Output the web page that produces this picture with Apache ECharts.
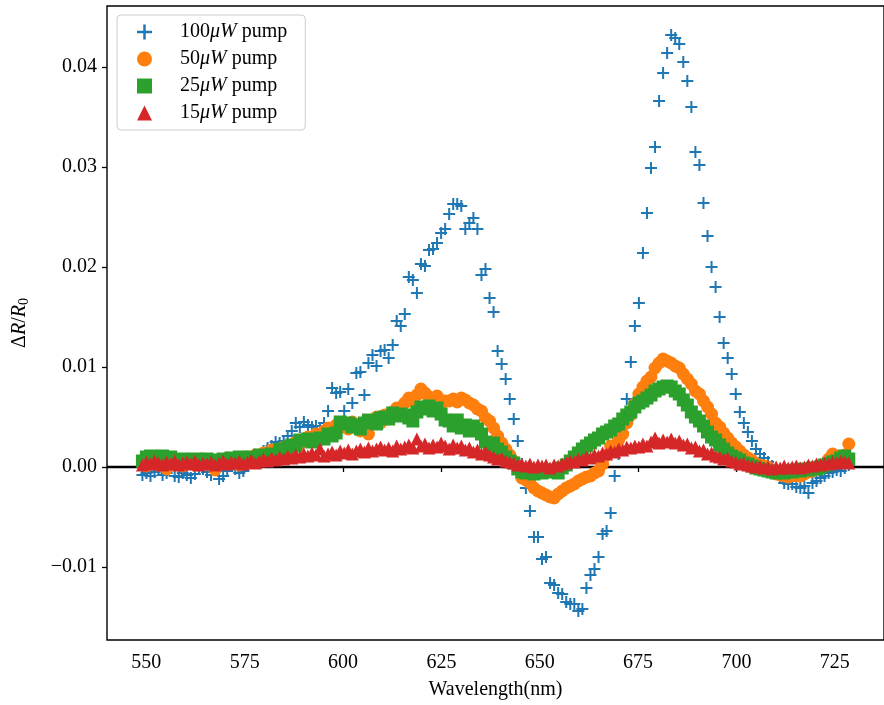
<!DOCTYPE html>
<html>
<head>
<meta charset="utf-8">
<script src="https://cdn.jsdelivr.net/npm/echarts@6/dist/echarts.min.js"></script>
<style>
  html, body { margin: 0; padding: 0; background: #ffffff; }
  #chart { width: 884px; height: 705px; }
</style>
</head>
<body>
<div id="chart"></div>
<script>
// Spectrometer wavelength grid (nm): first sample and spacing
const WL_START = 549.0;
const WL_STEP = 1.026;

// Differential reflectance ΔR/R0, stored in units of 1e-4, one value per sample
const SCALE = 1e-4;

const pump100 = [
  -8, -6, -9, -5, -3, -8, -6, 1, -9, -10,
  -6, -8, -11, -7, 0, -2, -5, -8, -3, -12,
  -9, -4, 1, -2, -6, -4, 2, 5, 9, 12,
  16, 19, 21, 25, 24, 26, 31, 36, 44, 40,
  45, 42, 40, 41, 38, 44, 56, 79, 74, 75,
  56, 78, 64, 94, 95, 72, 104, 112, 101, 116,
  117, 109, 122, 146, 141, 153, 190, 187, 174, 203,
  201, 217, 218, 224, 234, 238, 253, 263, 263, 261,
  238, 244, 249, 238, 192, 198, 169, 155, 116, 103,
  88, 68, 48, 26, 3, -21, -44, -70, -70, -92,
  -90, -116, -118, -126, -127, -135, -137, -137, -144, -142,
  -121, -108, -102, -90, -67, -64, -46, -9, 13, 40,
  68, 105, 141, 164, 214, 254, 299, 320, 366, 394,
  414, 432, 429, 423, 405, 386, 360, 315, 302, 264,
  231, 200, 180, 150, 124, 109, 93, 73, 55, 44,
  35, 26, 18, 13, 9, 5, 1, -4, -10, -16,
  -17, -17, -20, -21, -19, -26, -16, -14, -11, -9,
  -6, -5, -3, -4, -1, 2
];

const pump50 = [
  3, 1, 6, 4, 2, 5, -2, 4, 6, 3,
  1, 5, 7, 2, 4, 8, 3, 6, -3, 5,
  7, 9, 4, 6, 2, 8, 10, 7, 12, 9,
  14, 11, 17, 15, 18, 20, 16, 22, 25, 23,
  28, 30, 27, 33, 31, 36, 39, 37, 42, 44,
  40, 38, 45, 41, 36, 40, 33, 46, 50, 44,
  52, 48, 55, 59, 53, 64, 69, 66, 72, 78,
  74, 70, 68, 71, 63, 66, 66, 68, 65, 69,
  67, 64, 62, 58, 56, 49, 46, 39, 31, 24,
  18, 12, 6, 1, -11, -13, -16, -21, -24, -26,
  -28, -30, -31, -27, -24, -21, -19, -17, -14, -12,
  -10, -9, -6, -4, 3, 12, 21, 20, 27, 33,
  44, 52, 63, 73, 80, 86, 90, 99, 104, 108,
  106, 104, 101, 99, 93, 88, 83, 76, 73, 66,
  60, 53, 44, 40, 34, 29, 24, 20, 16, 12,
  9, 7, 3, 2, 1, 0, -4, -7, -8, -9,
  -10, -8, -9, -9, -7, -5, -4, -2, 0, 3,
  8, 13, 11, 9, 12, 23
];

const pump25 = [
  6, 10, 11, 9, 10, 11, 8, 10, 7, 6,
  8, 7, 5, 8, 6, 7, 8, 6, 7, 5,
  8, 6, 9, 8, 10, 9, 8, 10, 9, 12,
  11, 10, 13, 12, 18, 17, 20, 22, 21, 27,
  26, 28, 25, 27, 29, 28, 33, 31, 34, 45,
  43, 44, 40, 42, 38, 44, 47, 45, 43, 49,
  50, 48, 54, 51, 53, 52, 49, 46, 55, 60,
  58, 61, 56, 59, 53, 47, 46, 41, 47, 39,
  42, 36, 41, 38, 33, 25, 22, 24, 18, 15,
  10, 6, 4, -2, -5, -6, -4, -7, -5, -6,
  -4, -5, -3, -6, -1, 2, 6, 10, 14, 18,
  21, 24, 27, 29, 33, 35, 37, 41, 43, 48,
  52, 55, 60, 64, 66, 69, 72, 76, 78, 80,
  81, 80, 76, 73, 67, 62, 55, 50, 46, 41,
  35, 30, 27, 22, 18, 14, 11, 9, 7, 4,
  3, 1, -1, -2, -3, -4, -5, -6, -5, -6,
  -4, -5, -3, -4, -2, -3, -1, -2, 0, 2,
  3, 5, 6, 9, 11, 8
];

const pump15 = [
  2, 5, 3, 6, 4, 2, 5, 3, 6, 2,
  4, 5, 3, 6, 2, 4, 3, 5, 2, 4,
  6, 3, 5, 4, 6, 3, 5, 7, 4, 6,
  8, 6, 9, 7, 10, 8, 11, 9, 12, 10,
  13, 11, 14, 12, 18, 11, 13, 15, 12, 16,
  14, 17, 13, 16, 18, 15, 19, 16, 18, 20,
  17, 19, 16, 21, 18, 20, 22, 19, 28, 21,
  23, 19, 22, 20, 24, 21, 18, 22, 19, 21,
  17, 19, 15, 17, 13, 15, 12, 10, 8, 9,
  6, 5, 4, 2, 3, 1, 3, 0, 2, 1,
  2, -1, 2, 1, 3, 4, 6, 5, 8, 7,
  10, 9, 12, 11, 14, 13, 16, 15, 18, 17,
  20, 19, 21, 20, 23, 21, 25, 29, 24, 27,
  25, 28, 24, 26, 22, 23, 19, 20, 16, 17,
  13, 14, 11, 10, 8, 9, 6, 5, 3, 4,
  2, 1, 0, 1, -1, 0, -2, 0, -1, 1,
  -1, 0, 1, -1, 0, 2, 1, 3, 2, 4,
  3, 5, 4, 6, 5, 4
];

const seriesNames = ['100μW pump', '50μW pump', '25μW pump', '15μW pump'];
const xTicks = [550, 575, 600, 625, 650, 675, 700, 725];
const yTicks = [-0.01, 0.00, 0.01, 0.02, 0.03, 0.04];

// Axis limits: data range plus 5% margins
const X_MIN = 540.0, X_MAX = 737.5;
const Y_MIN = -0.0173, Y_MAX = 0.0461;

const FONT = '"Liberation Serif", "DejaVu Serif", serif';
const FS = 20;
const PLUS = 'path://M5,0H7V5H12V7H7V12H5V7H0V5H5Z';

function toPoints(vals) {
  return vals.map((v, i) => [WL_START + i * WL_STEP, v * SCALE]);
}
function fmtY(v) {
  const s = Math.abs(v).toFixed(2);
  return v < -1e-9 ? '\u2212' + s : s;
}

const chart = echarts.init(document.getElementById('chart'), null, { renderer: 'canvas' });

const scatterBase = {
  type: 'scatter',
  animation: false,
  emphasis: { disabled: true },
  silent: true
};

chart.setOption({
  animation: false,
  backgroundColor: '#ffffff',
  grid: {
    left: 107, right: -9, top: 6, bottom: 65,
    show: true, borderColor: '#000000', borderWidth: 1.4,
    backgroundColor: 'transparent'
  },
  legend: {
    data: seriesNames,
    orient: 'vertical',
    left: 117, top: 15,
    itemWidth: 15, itemHeight: 15, itemGap: 7,
    padding: [7, 18, 7, 20],
    backgroundColor: 'rgba(255,255,255,0.85)',
    borderColor: '#cccccc', borderWidth: 1, borderRadius: 4,
    selectedMode: false,
    formatter: name => name.replace('μW', '{i|μW}'),
    textStyle: {
      fontFamily: FONT, fontSize: FS, color: '#000', lineHeight: 20,
      padding: [0, 0, 0, 23],
      rich: { i: { fontFamily: FONT, fontSize: FS, fontStyle: 'italic', color: '#000', lineHeight: 20 } }
    }
  },
  xAxis: {
    type: 'value', min: X_MIN, max: X_MAX,
    name: 'Wavelength(nm)', nameLocation: 'middle', nameGap: 40,
    nameTextStyle: { fontFamily: FONT, fontSize: FS, color: '#000' },
    axisLine: { show: false },
    axisTick: { show: true, inside: false, length: 5, customValues: xTicks, lineStyle: { color: '#000', width: 1.3 } },
    axisLabel: { customValues: xTicks, margin: 13, fontFamily: FONT, fontSize: FS, color: '#000' },
    splitLine: { show: false }
  },
  yAxis: {
    type: 'value', min: Y_MIN, max: Y_MAX,
    name: '\u0394{i|R}/{i|R}{s|0}', nameLocation: 'middle', nameRotate: 90, nameGap: 76,
    nameTextStyle: {
      fontFamily: FONT, fontSize: FS, color: '#000', lineHeight: 22,
      rich: {
        i: { fontFamily: FONT, fontSize: FS, fontStyle: 'italic', color: '#000', lineHeight: 22 },
        s: { fontFamily: FONT, fontSize: 14, color: '#000', lineHeight: 22, padding: [8, 0, 0, 0] }
      }
    },
    axisLine: { show: false },
    axisTick: { show: true, inside: false, length: 5, customValues: yTicks, lineStyle: { color: '#000', width: 1.3 } },
    axisLabel: { customValues: yTicks, margin: 10, fontFamily: FONT, fontSize: FS, color: '#000', formatter: fmtY },
    splitLine: { show: false }
  },
  series: [
    {
      // zero reference line
      type: 'line', z: 1, silent: true, symbol: 'none', animation: false,
      data: [[X_MIN, 0], [X_MAX, 0]],
      lineStyle: { color: '#000000', width: 2.5 }
    },
    Object.assign({}, scatterBase, {
      name: seriesNames[0], symbol: PLUS, symbolSize: 12,
      itemStyle: { color: '#1f77b4', opacity: 1 }, data: toPoints(pump100)
    }),
    Object.assign({}, scatterBase, {
      name: seriesNames[1], symbol: 'circle', symbolSize: 13,
      itemStyle: { color: '#ff7f0e', opacity: 1 }, data: toPoints(pump50)
    }),
    Object.assign({}, scatterBase, {
      name: seriesNames[2], symbol: 'rect', symbolSize: 13,
      itemStyle: { color: '#2ca02c', opacity: 1 }, data: toPoints(pump25)
    }),
    Object.assign({}, scatterBase, {
      name: seriesNames[3], symbol: 'triangle', symbolSize: 13,
      itemStyle: { color: '#d62728', opacity: 1 }, data: toPoints(pump15)
    })
  ]
});
</script>
</body>
</html>
